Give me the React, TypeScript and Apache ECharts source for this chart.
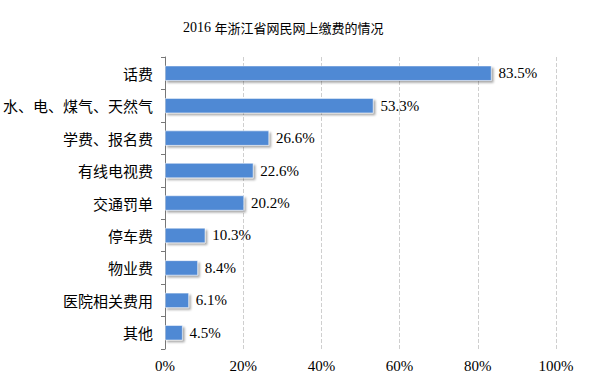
import React, { useEffect, useRef } from "react";
import * as echarts from "echarts";

const categories = ["话费", "水、电、煤气、天然气", "学费、报名费", "有线电视费", "交通罚单", "停车费", "物业费", "医院相关费用", "其他"];
const values = [83.5, 53.3, 26.6, 22.6, 20.2, 10.3, 8.4, 6.1, 4.5];
const xTicks = [0, 20, 40, 60, 80, 100];
const titleYear = "2016";
const titleText = "年浙江省网民网上缴费的情况";

export default function App() {
  const ref = useRef<HTMLDivElement>(null);
  useEffect(() => {
    if (!ref.current) return;
    const chart = echarts.init(ref.current, null, { renderer: "svg" });
    chart.setOption({
      animation: false,
      backgroundColor: "#fff",
      title: {
        text: "{y|" + titleYear + " }{c|" + titleText + "}",
        left: 178,
        top: 15,
        textStyle: {
          fontWeight: "normal",
          color: "#000",
          rich: {
            y: { fontFamily: "'Liberation Serif', serif", fontSize: 14, fontWeight: "normal", color: "#000" },
            c: { fontFamily: "'Noto Sans CJK SC', sans-serif", fontSize: 13, fontWeight: "normal", color: "#000" },
          },
        },
      },
      grid: { left: 164, right: 49, top: 57, bottom: 33, containLabel: false },
      xAxis: {
        type: "value",
        min: xTicks[0],
        max: xTicks[xTicks.length - 1],
        interval: 20,
        axisLine: { show: false },
        axisTick: { show: false },
        splitLine: { show: true, lineStyle: { type: "dashed", color: "#cfcfcf", width: 1 } },
        axisLabel: {
          formatter: "{value}%",
          margin: 9,
          fontFamily: "'Liberation Serif', serif",
          fontSize: 15,
          color: "#000",
        },
      },
      yAxis: {
        type: "category",
        data: categories,
        inverse: true,
        axisLine: { show: true, lineStyle: { color: "#777" } },
        axisTick: { show: true, length: 4, inside: false, lineStyle: { color: "#777" } },
        axisLabel: { margin: 12, fontFamily: "'Noto Sans CJK SC', sans-serif", fontSize: 15, color: "#000" },
      },
      series: [
        {
          type: "bar",
          data: values,
          barWidth: 15,
          itemStyle: {
            color: "#5089d4",
            borderColor: "#ffffff",
            borderWidth: 0.5,
            shadowColor: "rgba(0,0,0,0.35)",
            shadowOffsetX: 2,
            shadowOffsetY: 2,
            shadowBlur: 2,
          },
          label: {
            show: true,
            position: "right",
            distance: 7,
            formatter: (p: any) => p.value.toFixed(1) + "%",
            fontFamily: "'Liberation Serif', serif",
            fontSize: 15,
            color: "#000",
          },
        },
      ],
    });
    return () => chart.dispose();
  }, []);
  return <div ref={ref} style={{ width: 605, height: 382, position: "absolute", left: 0, top: 0 }} />;
}
